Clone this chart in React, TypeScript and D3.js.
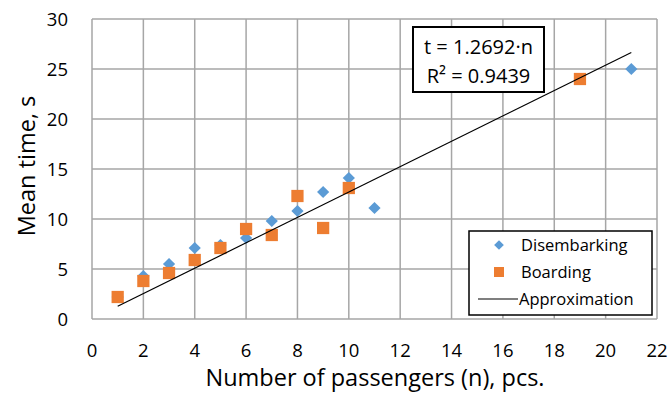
import React from 'react';
import * as d3 from 'd3';

const disembarkN = [1, 2, 3, 4, 5, 6, 7, 8, 9, 10, 11, 21];
const disembarkT = [2.2, 4.3, 5.5, 7.1, 7.4, 8.1, 9.8, 10.8, 12.7, 14.1, 11.1, 25.0];
const boardingN = [1, 2, 3, 4, 5, 6, 7, 8, 9, 10, 19];
const boardingT = [2.2, 3.8, 4.6, 5.9, 7.1, 9.0, 8.4, 12.3, 9.1, 13.1, 24.0];
const slope = 1.2692;
const fitRange = [1, 21];
const xTicks = [0, 2, 4, 6, 8, 10, 12, 14, 16, 18, 20, 22];
const yTicks = [0, 5, 10, 15, 20, 25, 30];

const W = 671;
const H = 401;
const left = 92;
const right = 657;
const top = 19;
const bottom = 319;
const font = "'Open Sans', Lato, sans-serif";
const blue = '#5B9BD5';
const orange = '#ED7D31';

const App = () => {
    const x = d3.scaleLinear().domain([0, 22]).range([left, right]);
    const y = d3.scaleLinear().domain([0, 30]).range([bottom, top]);
    const fitLine = d3.line<number>().x(n => x(n)).y(n => y(slope * n));
    const diamond = d3.symbol(d3.symbolDiamond2, 95)();
    const square = d3.symbol(d3.symbolSquare, 150)();

    return (
        <svg width={W} height={H} style={{ position: 'absolute', left: 0, top: 0, background: '#fff' }}>
            {/* grid */}
            {xTicks.map(t => (
                <line key={'gx' + t} x1={x(t)} x2={x(t)} y1={top} y2={bottom} stroke="#a6a6a6" strokeWidth={1.5} />
            ))}
            {yTicks.map(t => (
                <line key={'gy' + t} x1={left} x2={right} y1={y(t)} y2={y(t)} stroke="#a6a6a6" strokeWidth={1.5} />
            ))}

            {/* tick labels */}
            {xTicks.map(t => (
                <text key={'tx' + t} x={x(t)} y={357} textAnchor="middle" fontFamily={font} fontSize={18.5} fill="#000">{t}</text>
            ))}
            {yTicks.map(t => (
                <text key={'ty' + t} x={68} y={y(t) + 7} textAnchor="end" fontFamily={font} fontSize={18.5} fill="#000">{t}</text>
            ))}

            {/* axis titles */}
            <text x={375} y={386} textAnchor="middle" fontFamily={font} fontSize={23.5} fill="#000">
                Number of passengers (n), pcs.
            </text>
            <text transform="translate(35, 166) rotate(-90)" textAnchor="middle" fontFamily={font} fontSize={23.5} fill="#000">
                Mean time, s
            </text>

            {/* series */}
            {disembarkN.map((n, i) => (
                <path key={'d' + i} d={diamond} transform={`translate(${x(n)}, ${y(disembarkT[i])})`} fill={blue} />
            ))}
            {boardingN.map((n, i) => (
                <path key={'b' + i} d={square} transform={`translate(${x(n)}, ${y(boardingT[i])})`} fill={orange} />
            ))}
            <path d={fitLine(fitRange) || ''} fill="none" stroke="#000" strokeWidth={1.2} />

            {/* equation box */}
            <rect x={413} y={27} width={131} height={65} fill="#fff" stroke="#000" strokeWidth={2} />
            <text x={478.5} y={54} textAnchor="middle" fontFamily={font} fontSize={20} fill="#000">t = 1.2692·n</text>
            <text x={478.5} y={83} textAnchor="middle" fontFamily={font} fontSize={20} fill="#000">R² = 0.9439</text>

            {/* legend */}
            <rect x={469} y={231} width={183} height={84} fill="#fff" stroke="#000" strokeWidth={1.5} />
            <path d={d3.symbol(d3.symbolDiamond2, 60)()} transform="translate(499, 245)" fill={blue} />
            <text x={521} y={251} fontFamily={font} fontSize={16.5} fill="#000">Disembarking</text>
            <path d={d3.symbol(d3.symbolSquare, 100)()} transform="translate(499, 272)" fill={orange} />
            <text x={521} y={278} fontFamily={font} fontSize={16.5} fill="#000">Boarding</text>
            <line x1={478} x2={518} y1={299} y2={299} stroke="#000" strokeWidth={1.2} />
            <text x={519} y={305} fontFamily={font} fontSize={16.5} fill="#000">Approximation</text>
        </svg>
    );
};

export default App;
